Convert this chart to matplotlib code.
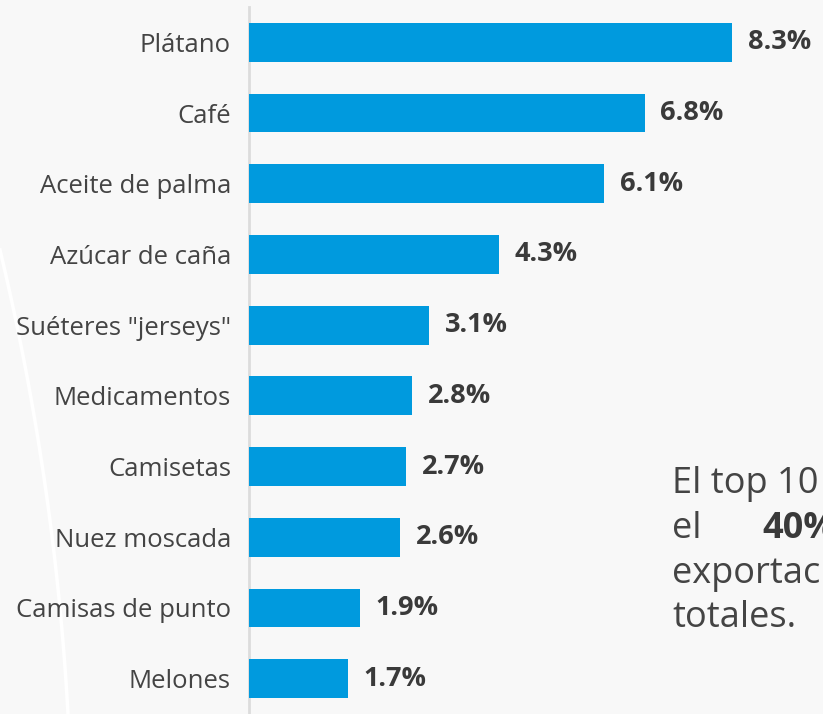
import matplotlib
matplotlib.use("Agg")
import matplotlib.pyplot as plt
from matplotlib.lines import Line2D
import numpy as np

# datos del grafico
productos = ["Plátano", "Café", "Aceite de palma", "Azúcar de caña", 'Suéteres "jerseys"',
             "Medicamentos", "Camisetas", "Nuez moscada", "Camisas de punto", "Melones"]
porcentajes = [8.3, 6.8, 6.1, 4.3, 3.1, 2.8, 2.7, 2.6, 1.9, 1.7]

W, H = 823, 714
fondo = "#f8f8f8"
azul = "#009ade"
gris_txt = "#444444"

plt.rcParams['font.family'] = ['Open Sans', 'DejaVu Sans']

fig = plt.figure(figsize=(W / 100, H / 100), dpi=100)
fig.patch.set_facecolor(fondo)

# curva decorativa tenue del fondo
t = np.linspace(0, 1, 60)
cx = 2 * (1 - t) * t * 55 + t**2 * 68
cy = (1 - t)**2 * 250 + 2 * (1 - t) * t * 480 + t**2 * 714
fig.add_artist(Line2D(cx / W, 1 - cy / H, color="#ffffff", lw=2.5, transform=fig.transFigure, zorder=0))

ax = fig.add_axes([249 / W, 0, (W - 249) / W, 707 / H])
ax.set_facecolor("none")

y = np.arange(len(productos))
ax.barh(y, porcentajes, height=0.55, color=azul, zorder=3)

ax.set_ylim(len(productos) - 0.5, -0.5)
ax.set_xlim(0, (W - 250) / 58.07)

ax.set_yticks(y)
ax.set_yticklabels(productos, fontsize=18.5, color=gris_txt)
ax.tick_params(axis='y', length=0, pad=13)
ax.set_xticks([])

for s in ["top", "right", "bottom"]:
    ax.spines[s].set_visible(False)
ax.spines["left"].set_color("#dcdcdc")
ax.spines["left"].set_linewidth(2)

for yi, v in zip(y, porcentajes):
    ax.text(v + 0.27, yi, f"{v}%", va="center", ha="left", fontsize=19.5,
            fontweight="bold", color="#3a3a3a", clip_on=False)

# texto lateral (cortado por el borde como en el original)
fs = 26
fig.text(672 / W, 1 - 493 / H, "El top 10 representa", fontsize=fs, color=gris_txt, va="baseline")
fig.text(672 / W, 1 - 538 / H, "el", fontsize=fs, color=gris_txt, va="baseline")
fig.text(762 / W, 1 - 538 / H, "40%", fontsize=fs, color="#3a3a3a", fontweight="bold", va="baseline")
fig.text(672 / W, 1 - 583 / H, "exportaciones", fontsize=fs, color=gris_txt, va="baseline")
fig.text(672 / W, 1 - 627 / H, "totales.", fontsize=fs, color=gris_txt, va="baseline")

fig.savefig("out.png", dpi=100, facecolor=fondo)
